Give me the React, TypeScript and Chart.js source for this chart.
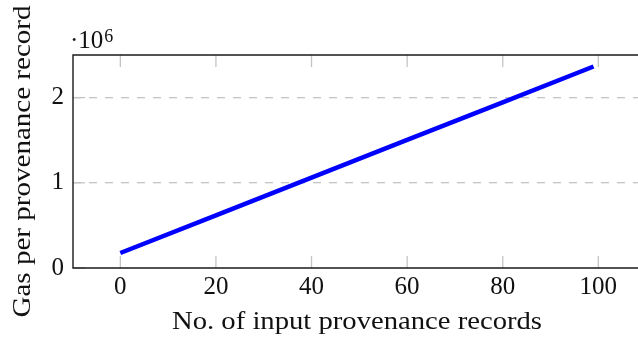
import React, { useEffect, useRef } from "react";
import { Chart, registerables } from "chart.js";

Chart.register(...registerables);

const xValues = [0, 20, 40, 60, 80, 99];
const gasValues = [176000, 618000, 1060000, 1503000, 1945000, 2365000];
const xTickValues = [0, 20, 40, 60, 80, 100];
const yTickValues = [0, 1000000, 2000000];
const xTitle = "No. of input provenance records";
const yTitle = "Gas per provenance record";

const FONT = "'Liberation Serif', 'DejaVu Serif', serif";

function fitText(ctx: any, text: string, x: number, y: number, target: number) {
  const w = ctx.measureText(text).width;
  const s = target / w;
  ctx.save();
  ctx.translate(x, y);
  ctx.scale(s, 1);
  ctx.fillText(text, 0, 0);
  ctx.restore();
}

const framePlugin = {
  id: "frame",
  beforeDatasetsDraw(chart: any) {
    const { ctx, chartArea, scales } = chart;
    const { left, top, bottom } = chartArea;
    ctx.save();
    ctx.strokeStyle = "#c4c4c4";
    ctx.lineWidth = 1.3;
    const tl = 12;
    xTickValues.forEach((v) => {
      const x = scales.x.getPixelForValue(v);
      ctx.beginPath();
      ctx.moveTo(x, bottom);
      ctx.lineTo(x, bottom - tl);
      ctx.moveTo(x, top);
      ctx.lineTo(x, top + tl);
      ctx.stroke();
    });
    yTickValues.forEach((v) => {
      const y = scales.y.getPixelForValue(v);
      ctx.beginPath();
      ctx.moveTo(left, y);
      ctx.lineTo(left + tl, y);
      ctx.stroke();
    });
    ctx.restore();
  },
  afterDraw(chart: any) {
    const { ctx, chartArea } = chart;
    const { left, top, bottom } = chartArea;
    ctx.save();
    ctx.strokeStyle = "#1a1a1a";
    ctx.lineWidth = 1.4;
    ctx.beginPath();
    ctx.moveTo(chart.width + 5, top);
    ctx.lineTo(left, top);
    ctx.lineTo(left, bottom);
    ctx.lineTo(chart.width + 5, bottom);
    ctx.stroke();

    ctx.fillStyle = "#111";
    ctx.font = `25px ${FONT}`;
    ctx.textAlign = "center";
    ctx.textBaseline = "alphabetic";
    fitText(ctx, xTitle, 357, 329, 370);

    ctx.save();
    ctx.translate(30, (top + bottom) / 2);
    ctx.rotate(-Math.PI / 2);
    fitText(ctx, yTitle, 0, 0, 312);
    ctx.restore();

    ctx.textAlign = "left";
    ctx.font = `25px ${FONT}`;
    ctx.fillText("\u00b710", 70, 48);
    const w = ctx.measureText("\u00b710").width;
    ctx.font = `18px ${FONT}`;
    ctx.fillText("6", 70 + w + 1, 42);
    ctx.restore();
  },
};

export default function App() {
  const ref = useRef<HTMLCanvasElement>(null);
  useEffect(() => {
    document.body.style.margin = "0";
    const chart = new Chart(ref.current!, {
      type: "line",
      data: {
        datasets: [
          {
            data: xValues.map((x, i) => ({ x, y: gasValues[i] })),
            borderColor: "#0000ff",
            borderWidth: 4.5,
            pointRadius: 0,
            fill: false,
            tension: 0,
          },
        ],
      },
      plugins: [framePlugin],
      options: {
        animation: false,
        responsive: false,
        layout: { padding: { top: 55, left: 0, right: 0, bottom: 0 } },
        plugins: { legend: { display: false }, tooltip: { enabled: false } },
        scales: {
          x: {
            type: "linear",
            min: -9.9,
            max: 108.3,
            afterBuildTicks: (s: any) => {
              s.ticks = xTickValues.map((v) => ({ value: v }));
            },
            afterFit: (s: any) => {
              s.height = 71;
            },
            grid: { display: false, drawTicks: false },
            border: { display: false },
            ticks: {
              padding: 4,
              color: "#111",
              font: { family: FONT, size: 25 },
              maxRotation: 0,
              autoSkip: false,
            },
          },
          y: {
            type: "linear",
            min: 0,
            max: 2500000,
            afterBuildTicks: (s: any) => {
              s.ticks = yTickValues.map((v) => ({ value: v }));
            },
            afterFit: (s: any) => {
              s.width = 73;
            },
            grid: {
              drawTicks: false,
              color: (c: any) => (c.tick && c.tick.value === 0 ? "rgba(0,0,0,0)" : "#c4c4c4"),
              lineWidth: 1.3,
            },
            border: { display: false, dash: [8, 8] },
            ticks: {
              padding: 9,
              color: "#111",
              font: { family: FONT, size: 25 },
              callback: (v: any) => String(Number(v) / 1000000),
            },
          },
        },
      },
    } as any);
    return () => chart.destroy();
  }, []);
  return <canvas ref={ref} width={638} height={339} style={{ display: "block" }} />;
}
